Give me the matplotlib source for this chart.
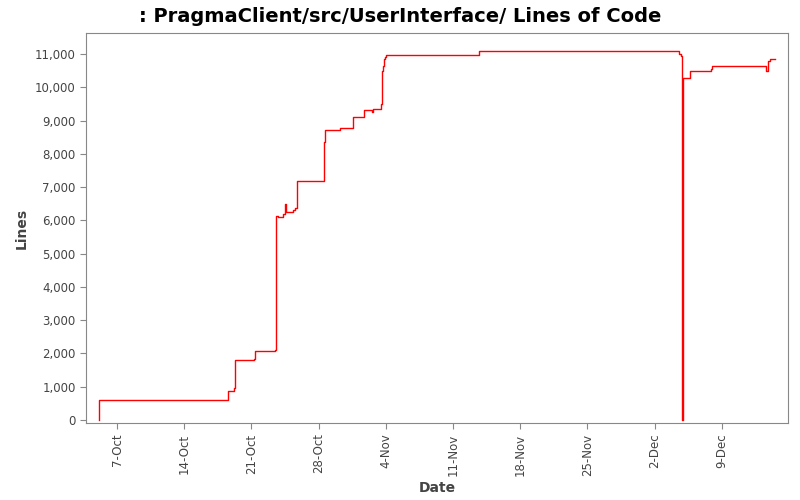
import matplotlib
matplotlib.use("Agg")
import matplotlib.pyplot as plt
import matplotlib.dates as mdates
import datetime as dt

# days after 7-Oct, and lines of code
days = [-1.875, -1.86, 11.56, 12.19, 12.29, 14.27, 14.38, 16.46, 16.56, 16.77, 17.29, 17.5, 17.6,
        18.33, 18.54, 18.75, 21.56, 21.67, 23.23, 24.58, 25.73, 26.56, 26.67, 27.5, 27.6, 27.7,
        27.8, 27.9, 28.02, 37.71, 58.54, 58.75, 58.85, 58.96, 59.69, 61.67, 61.88, 61.98,
        67.6, 67.8, 68.02, 68.54]
lines = [0, 600, 880, 950, 1800, 1830, 2080, 2100, 6120, 6100, 6200, 6500, 6250,
         6300, 6370, 7180, 8350, 8720, 8780, 9100, 9330, 9250, 9350, 9500, 10500, 10650,
         10850, 10920, 10970, 11080, 11000, 10950, 0, 10270, 10500, 10480, 10560, 10650,
         10480, 10800, 10850, 10850]
tick_dates = ["7-Oct", "14-Oct", "21-Oct", "28-Oct", "4-Nov", "11-Nov", "18-Nov", "25-Nov", "2-Dec", "9-Dec"]

base = dt.datetime(2006, 10, 7)
dates = [base + dt.timedelta(days=d) for d in days]

fig = plt.figure(figsize=(8, 5), dpi=100)
ax = fig.add_axes([0.1075, 0.154, 0.8775, 0.78])
ax.step(dates, lines, where="post", color="red", lw=1)
ax.set_xlim(base + dt.timedelta(days=-3.23), base + dt.timedelta(days=69.9))
ax.set_ylim(-90, 11630)
ticks = [base + dt.timedelta(days=7 * i) for i in range(len(tick_dates))]
ax.set_xticks(ticks)
ax.set_xticklabels(tick_dates, rotation=90, fontsize=8.5, color="#444444")
ax.set_yticks(range(0, 11001, 1000))
ax.set_yticklabels([f"{v:,}" for v in range(0, 11001, 1000)], fontsize=8.5, color="#444444")
for s in ax.spines.values():
    s.set_color("#888888")
ax.tick_params(color="#888888", length=4)
ax.set_xlabel("Date", fontsize=10, fontweight="bold", color="#444444")
ax.set_ylabel("Lines", fontsize=10, fontweight="bold", color="#444444")
fig.suptitle(": PragmaClient/src/UserInterface/ Lines of Code", fontsize=14, fontweight="bold", y=0.985)
fig.savefig("out.png")
